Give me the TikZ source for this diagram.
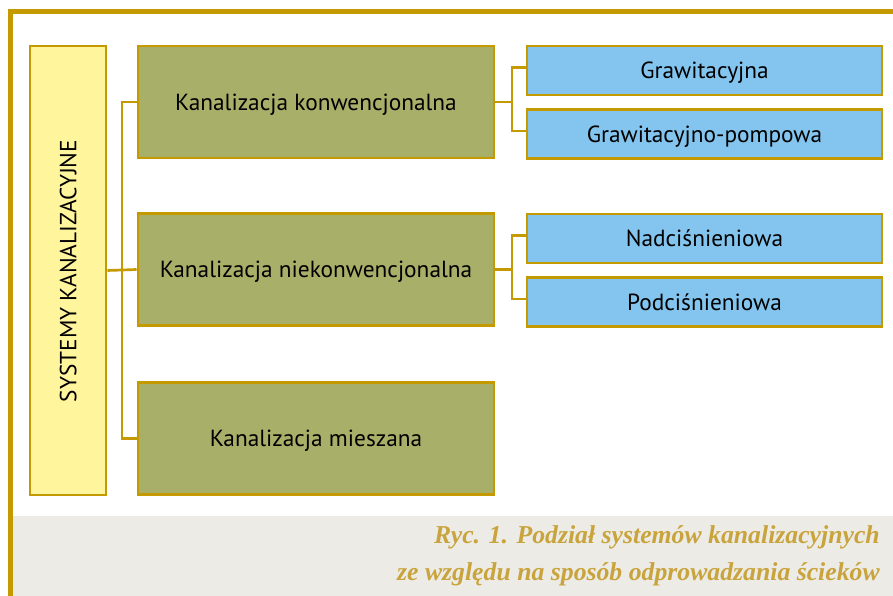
\documentclass[tikz,border=0pt]{standalone}
\usepackage{fontspec}
\setmainfont{PT Sans}
\newfontfamily\capfont{Liberation Serif}
\definecolor{gold}{RGB}{196,154,0}
\definecolor{yel}{RGB}{255,245,157}
\definecolor{olive2}{RGB}{168,175,104}
\definecolor{sky}{RGB}{131,197,238}
\definecolor{capbg}{RGB}{236,235,230}
\definecolor{captxt}{RGB}{201,164,60}
\begin{document}
\begin{tikzpicture}[x=0.75pt,y=-0.75pt,
  box/.style={draw=gold,line width=2.2pt,inner sep=0pt,text depth=0pt,font=\fontsize{17.5}{21}\selectfont},
  ybox/.style={box,fill=yel,minimum width=76*0.75pt,minimum height=449*0.75pt},
  gbox/.style={box,fill=olive2,minimum width=356*0.75pt,minimum height=112*0.75pt},
  bbox/.style={box,fill=sky,minimum width=355*0.75pt,minimum height=49*0.75pt},
  conn/.style={draw=gold,line width=2pt},
  captext/.style={anchor=base east,font=\capfont\bfseries\itshape\fontsize{19.3}{24}\selectfont,text=captxt,inner sep=0pt}]
\useasboundingbox (0,0) rectangle (893,596);
\fill[white] (0,0) rectangle (893,596);
\fill[capbg] (13,516) rectangle (893,596);
\draw[gold,line width=3.8pt] (10.5,620) -- (10.5,11.5) -- (920,11.5);
% nodes
\node[ybox] (sys) at (68,270.5) {};
\node[rotate=90,text depth=0pt,font=\fontsize{17.5}{21}\selectfont] (systxt) at (68,271) {SYSTEMY KANALIZACYJNE};
\node[gbox] (k1) at (316,102) {Kanalizacja konwencjonalna};
\node[gbox] (k2) at (316,269.5) {Kanalizacja niekonwencjonalna};
\node[gbox] (k3) at (316,438.5) {Kanalizacja mieszana};
\node[bbox] (b1) at (704.5,70.5) {Grawitacyjna};
\node[bbox] (b2) at (704.5,134) {Grawitacyjno-pompowa};
\node[bbox] (b3) at (704.5,238.5) {Nadciśnieniowa};
\node[bbox] (b4) at (704.5,302) {Podciśnieniowa};
% connectors
\coordinate (v1) at (122,0);
\coordinate (v2) at (512,0);
\draw[conn] (sys.east) -- (k2.west);
\draw[conn] (k1.west) -- (k1.west -| v1) -- (k3.west -| v1) -- (k3.west);
\draw[conn] (k1.east) -- (k1.east -| v2);
\draw[conn] ([yshift=3*0.75pt]b1.west) -- ([yshift=3*0.75pt]b1.west -| v2) -- ([yshift=3*0.75pt]b2.west -| v2) -- ([yshift=3*0.75pt]b2.west);
\draw[conn] (k2.east) -- (k2.east -| v2);
\draw[conn] ([yshift=3*0.75pt]b3.west) -- ([yshift=3*0.75pt]b3.west -| v2) -- ([yshift=3*0.75pt]b4.west -| v2) -- ([yshift=3*0.75pt]b4.west);
% caption
\node[captext] (cap1) at (880,543) {Ryc. 1. Podział systemów kanalizacyjnych};
\node[captext] (cap2) at (880,580) {ze względu na sposób odprowadzania ścieków};
\end{tikzpicture}
\end{document}
